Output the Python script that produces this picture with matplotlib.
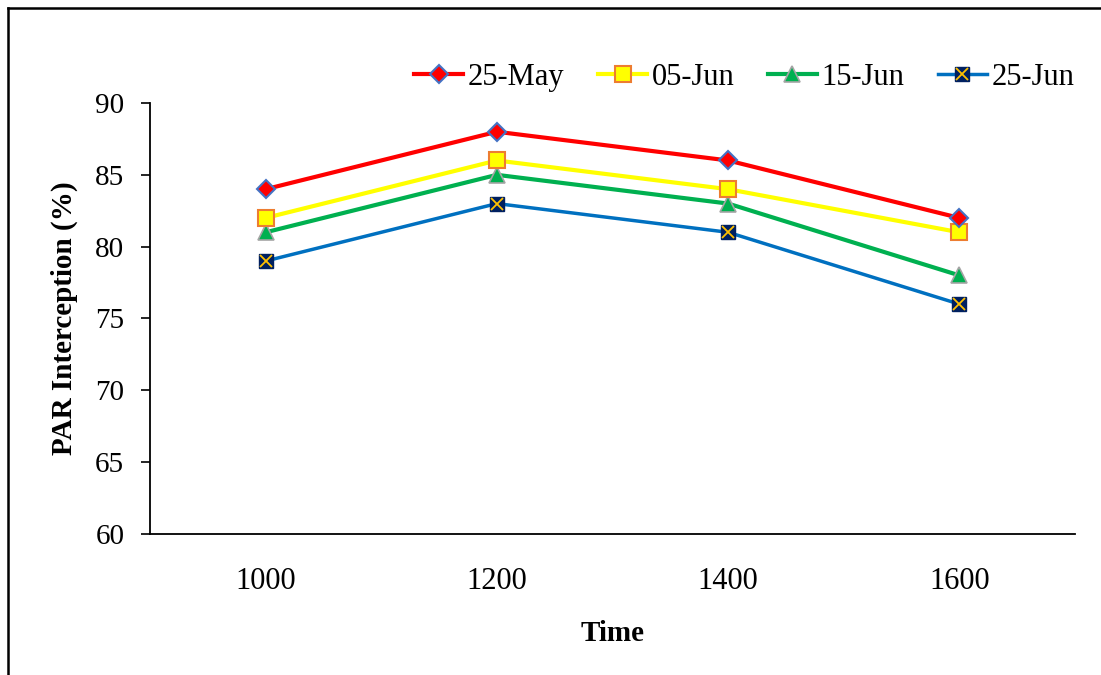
import matplotlib
matplotlib.use("Agg")
import matplotlib.pyplot as plt
from matplotlib.lines import Line2D

plt.rcParams["font.family"] = ["Liberation Serif", "DejaVu Serif"]

times = ["1000", "1200", "1400", "1600"]
may25 = [84, 88, 86, 82]
jun05 = [82, 86, 84, 81]
jun15 = [81, 85, 83, 78]
jun25 = [79, 83, 81, 76]

fig = plt.figure(figsize=(11.01, 6.75), dpi=100)
ax = fig.add_axes([0.1362, 0.2089, 0.8402, 0.6385])

x = range(len(times))

ax.plot(x, may25, color="#FF0000", lw=3, marker="D", ms=9,
        mfc="#FF0000", mec="#4472C4", mew=1.5, label="25-May", zorder=5)
ax.plot(x, jun05, color="#FFFF00", lw=3, marker="s", ms=11,
        mfc="#FFFF00", mec="#ED7D31", mew=1.5, label="05-Jun", zorder=4)
ax.plot(x, jun15, color="#00B050", lw=3, marker="^", ms=11,
        mfc="#00B050", mec="#A5A5A5", mew=1.2, label="15-Jun", zorder=3)
ax.plot(x, jun25, color="#0070C0", lw=2.5, zorder=2)
ax.plot(x, jun25, ls="none", marker="s", ms=10, mfc="#002060", mec="#002060", zorder=6)
ax.plot(x, jun25, ls="none", marker="x", ms=8, mec="#FFC000", mew=1.3, zorder=7)

# legend entry for the square-with-cross marker
h25 = (Line2D([], [], color="#0070C0", lw=2.5, marker="s", ms=10,
              mfc="#002060", mec="#002060"),
       Line2D([], [], ls="none", marker="x", ms=8, mec="#FFC000", mew=1.3))
handles, labels = ax.get_legend_handles_labels()
handles.append(h25)
labels.append("25-Jun")
fig.legend(handles, labels, loc="center", bbox_to_anchor=(0.676, 0.885), ncol=4,
           frameon=False, fontsize=22, handlelength=1.6, handletextpad=0.15,
           columnspacing=1.1)

ax.set_xlim(-0.5, 3.5)
ax.set_ylim(60, 90)
ax.set_yticks(range(60, 91, 5))
ax.set_xticks(list(x))
ax.set_xticklabels(times)
ax.tick_params(axis="y", direction="out", length=6.5, width=1.2, pad=12, labelsize=21)
ax.tick_params(axis="x", length=0, pad=24, labelsize=22)
ax.spines["top"].set_visible(False)
ax.spines["right"].set_visible(False)
ax.spines["left"].set_linewidth(1.3)
ax.spines["bottom"].set_linewidth(1.3)

ax.set_ylabel("PAR Interception (%)", fontsize=21, fontweight="bold", labelpad=12)
ax.set_xlabel("Time", fontsize=21, fontweight="bold", labelpad=17)

# page frame
fig.add_artist(Line2D([0.0073, 1.0], [0.988, 0.988], color="black", lw=1.8))
fig.add_artist(Line2D([0.0073, 0.0073], [0.0, 0.988], color="black", lw=1.8))

fig.savefig("out.png", dpi=100)
